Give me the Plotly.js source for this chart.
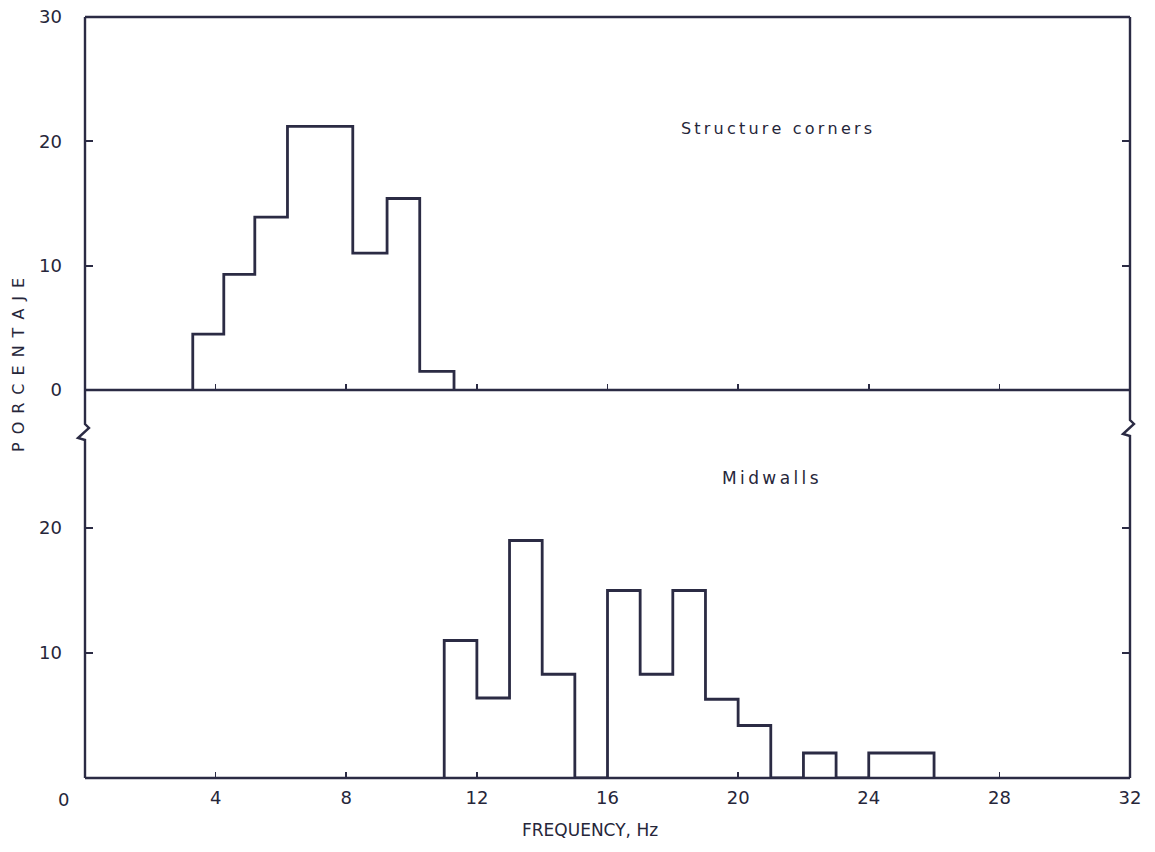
<!DOCTYPE html>
<html>
<head>
<meta charset="utf-8">
<script src="https://cdn.plot.ly/plotly-3.0.1.min.js"></script>
<style>html,body{margin:0;padding:0;background:#fff;}#chart{width:1155px;height:852px;}</style>
</head>
<body>
<div id="chart"></div>
<script>
// ---- data ----
const cornersEdges = [3.3, 4.25, 5.2, 6.2, 8.2, 9.25, 10.25, 11.3];
const cornersPct   = [4.5, 9.3, 13.9, 21.2, 11.0, 15.4, 1.5];
const midwallsEdges = [11, 12, 13, 14, 15, 16, 17, 18, 19, 20, 21, 22, 23, 24, 26];
const midwallsPct   = [11.0, 6.4, 19.0, 8.3, 0, 15.0, 8.3, 15.0, 6.3, 4.2, 0, 2.0, 0, 2.0];
const xTickVals = [4, 8, 12, 16, 20, 24, 28, 32];
const xTickText = ['4', '8', '12', '16', '20', '24', '28', '32'];
const topTickVals = [0, 10, 20, 30];
const botTickVals = [10, 20];
const labelCorners = 'Structure corners';
const labelMidwalls = 'Midwalls';
const xTitle = 'FREQUENCY, Hz';
const yTitle = 'PORCENTAJE';

// ---- geometry helpers (pixels -> paper) ----
const L = 85, R = 1130, T = 17, B = 778, W = R - L, H = B - T;
const px = X => (X - L) / W;
const py = Y => (B - Y) / H;
const D = py(408);           // split between panels
const topZero = py(390);     // position of the upper panel baseline

function steps(edges, vals) {
  return { x: [edges[0]].concat(edges), y: [0].concat(vals).concat([0]) };
}
function spaced(s, sp) { return s.split('').join(sp); }

const ink = '#2b2b44';
const txt = '#26263a';
const fontFam = 'DejaVu Sans, Verdana, sans-serif';

const sc = steps(cornersEdges, cornersPct);
const sm = steps(midwallsEdges, midwallsPct);

const traces = [
  { x: sm.x, y: sm.y, xaxis: 'x', yaxis: 'y', type: 'scatter', mode: 'lines',
    line: { shape: 'hv', color: ink, width: 2.8 }, hoverinfo: 'skip', showlegend: false },
  { x: sc.x, y: sc.y, xaxis: 'x2', yaxis: 'y2', type: 'scatter', mode: 'lines',
    line: { shape: 'hv', color: ink, width: 2.8 }, hoverinfo: 'skip', showlegend: false }
];

const axFont = { family: fontFam, size: 18, color: txt };

function breakPath(xp, y0) {
  return `M ${px(xp)},1 L ${px(xp)},${py(y0)} L ${px(xp + 4)},${py(y0 + 4)} L ${px(xp - 7)},${py(y0 + 14)} L ${px(xp)},${py(y0 + 16)} L ${px(xp)},0`;
}

const layout = {
  width: 1155, height: 852,
  margin: { l: L, r: 1155 - R, t: T, b: 852 - B, pad: 0 },
  paper_bgcolor: '#ffffff', plot_bgcolor: '#ffffff',
  showlegend: false,
  xaxis: {
    domain: [0, 1], range: [0, 32], anchor: 'y',
    tickvals: xTickVals, ticktext: xTickText,
    ticks: 'inside', ticklen: 6, tickwidth: 1.6, tickcolor: ink,
    showline: false, showgrid: false, zeroline: false,
    tickfont: axFont, ticklabelstandoff: 7
  },
  xaxis2: {
    domain: [0, 1], range: [0, 32], anchor: 'free', position: topZero,
    tickvals: xTickVals.slice(0, 7),
    ticks: 'inside', ticklen: 6, tickwidth: 1.6, tickcolor: ink,
    showticklabels: false, showline: false, showgrid: false, zeroline: false
  },
  yaxis: {
    domain: [0, D], range: [0, 29.6], anchor: 'x',
    tickvals: botTickVals, ticktext: botTickVals.map(String),
    ticks: 'inside', ticklen: 8, tickwidth: 1.8, tickcolor: ink, mirror: 'ticks',
    showline: false, showgrid: false, zeroline: false,
    tickfont: axFont, ticklabelstandoff: 22
  },
  yaxis2: {
    domain: [D, 1], range: [-1.45, 30], anchor: 'x2',
    tickvals: topTickVals, ticktext: topTickVals.map(String),
    ticks: 'inside', ticklen: 8, tickwidth: 1.8, tickcolor: ink, mirror: 'ticks',
    showline: false, showgrid: false, zeroline: false,
    tickfont: axFont, ticklabelstandoff: 22
  },
  shapes: [
    { type: 'line', xref: 'paper', yref: 'paper', x0: 0, x1: 1, y0: 1, y1: 1, line: { color: ink, width: 2.4 } },
    { type: 'line', xref: 'paper', yref: 'paper', x0: 0, x1: 1, y0: 0, y1: 0, line: { color: ink, width: 2.4 } },
    { type: 'line', xref: 'paper', yref: 'paper', x0: 0, x1: 1, y0: topZero, y1: topZero, line: { color: ink, width: 2.4 } },
    { type: 'path', xref: 'paper', yref: 'paper', path: breakPath(L, 424), line: { color: ink, width: 2.4 } },
    { type: 'path', xref: 'paper', yref: 'paper', path: breakPath(R, 420), line: { color: ink, width: 2.4 } }
  ],
  annotations: [
    { xref: 'paper', yref: 'paper', x: px(63), y: py(800), text: '0', showarrow: false,
      xanchor: 'center', yanchor: 'middle', font: axFont },
    { xref: 'paper', yref: 'paper', x: px(18), y: py(365), text: spaced(yTitle, '\u2002'), showarrow: false,
      textangle: -90, xanchor: 'center', yanchor: 'middle', font: { family: fontFam, size: 16, color: txt } },
    { xref: 'paper', yref: 'paper', x: px(590), y: py(830), text: xTitle, showarrow: false,
      xanchor: 'center', yanchor: 'middle', font: { family: fontFam, size: 17, color: txt } },
    { xref: 'paper', yref: 'paper', x: px(776), y: py(128), text: spaced(labelCorners, '\u2009'), showarrow: false,
      xanchor: 'center', yanchor: 'middle', font: { family: fontFam, size: 16, color: txt } },
    { xref: 'paper', yref: 'paper', x: px(770), y: py(478), text: spaced(labelMidwalls, '\u2009'), showarrow: false,
      xanchor: 'center', yanchor: 'middle', font: { family: fontFam, size: 17, color: txt } }
  ]
};

Plotly.newPlot('chart', traces, layout, { staticPlot: true, displayModeBar: false });
</script>
</body>
</html>
